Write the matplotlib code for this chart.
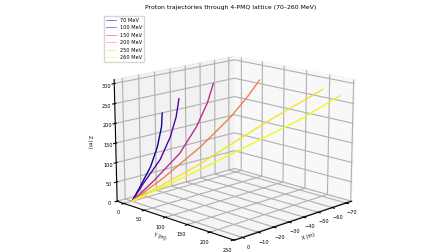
import numpy as np
import matplotlib
matplotlib.use("Agg")
import matplotlib.pyplot as plt

# trajectory points (x, y, z in m)
energies = [70, 100, 150, 200, 250, 260]

x_70 = [0, -3.0, -6.5, -8.8, -10.3, -10.6]
y_70 = [0, 10.1, 22.1, 30.1, 35.2, 36.3]
z_70 = [0, 40, 90, 140, 191, 226]

x_100 = [0, -4.0, -9.7, -13.2, -15.2, -16.2]
y_100 = [0, 13.7, 33.2, 45.0, 52.0, 55.2]
z_100 = [0, 47, 108, 166, 217, 262]

x_150 = [0, -7.3, -16.3, -22.0, -25.6, -27.6]
y_150 = [0, 24.9, 55.5, 74.6, 86.8, 93.8]
z_150 = [0, 52, 124, 192, 251, 300]

x_200 = [0, -13.1, -28.3, -40.7, -47.6, -52.7]
y_200 = [0, 28.1, 60.7, 87.4, 102.1, 113.1]
z_200 = [0, 56, 130, 202, 251, 293]

x_250 = [0, -11.5, -22.7, -44.9, -63.6]
y_250 = [0, 38.9, 76.9, 152.4, 216.2]
z_250 = [0, 47, 95, 202, 285]

x_260 = [0, -22.7, -44.9, -56.0, -69.3]
y_260 = [0, 77.4, 153.0, 190.9, 236.2]
z_260 = [0, 81, 166, 209, 270]

trajs = [(x_70, y_70, z_70), (x_100, y_100, z_100), (x_150, y_150, z_150),
         (x_200, y_200, z_200), (x_250, y_250, z_250), (x_260, y_260, z_260)]

x_ticks = [-70, -60, -50, -40, -30, -20, -10, 0]
y_ticks = [0, 50, 100, 150, 200, 250]
z_ticks = [0, 50, 100, 150, 200, 250, 300]

fig = plt.figure(figsize=(4.48, 2.52), dpi=100)
ax = fig.add_axes([0.116, -0.048, 0.8, 0.95], projection="3d")
ax.set_box_aspect(None, zoom=1.09)

cmap = plt.cm.plasma
for e, (xs, ys, zs) in zip(energies, trajs):
    c = cmap((e - energies[0]) / (energies[-1] - energies[0]))
    ax.plot(xs, ys, zs, color=c, lw=1.0, label=f"{e} MeV")

ax.set_xlim(-74, 5)
ax.set_ylim(-17, 252)
ax.set_zlim(0, 310)
ax.set_xticks(x_ticks)
ax.set_yticks(y_ticks)
ax.set_zticks(z_ticks)
ax.tick_params(axis="x", labelsize=3.6, pad=-4)
ax.tick_params(axis="y", labelsize=3.6, pad=-4)
ax.tick_params(axis="z", labelsize=3.6, pad=-5)
ax.set_xlabel("X (m)", fontsize=3.4, labelpad=-12)
ax.set_ylabel("Y (m)", fontsize=3.4, labelpad=-12)
ax.set_zlabel("Z (m)", fontsize=3.4, labelpad=-11)
ax.view_init(elev=15, azim=45)

fig.suptitle("Proton trajectories through 4-PMQ lattice (70\u2013260 MeV)",
             fontsize=4.4, x=0.515, y=0.98)
leg = fig.legend(loc="upper left", bbox_to_anchor=(0.226, 0.948), fontsize=3.6)
for line in leg.get_lines():
    line.set_linewidth(0.6)
    line.set_alpha(0.6)

fig.savefig("out.png", dpi=100)
